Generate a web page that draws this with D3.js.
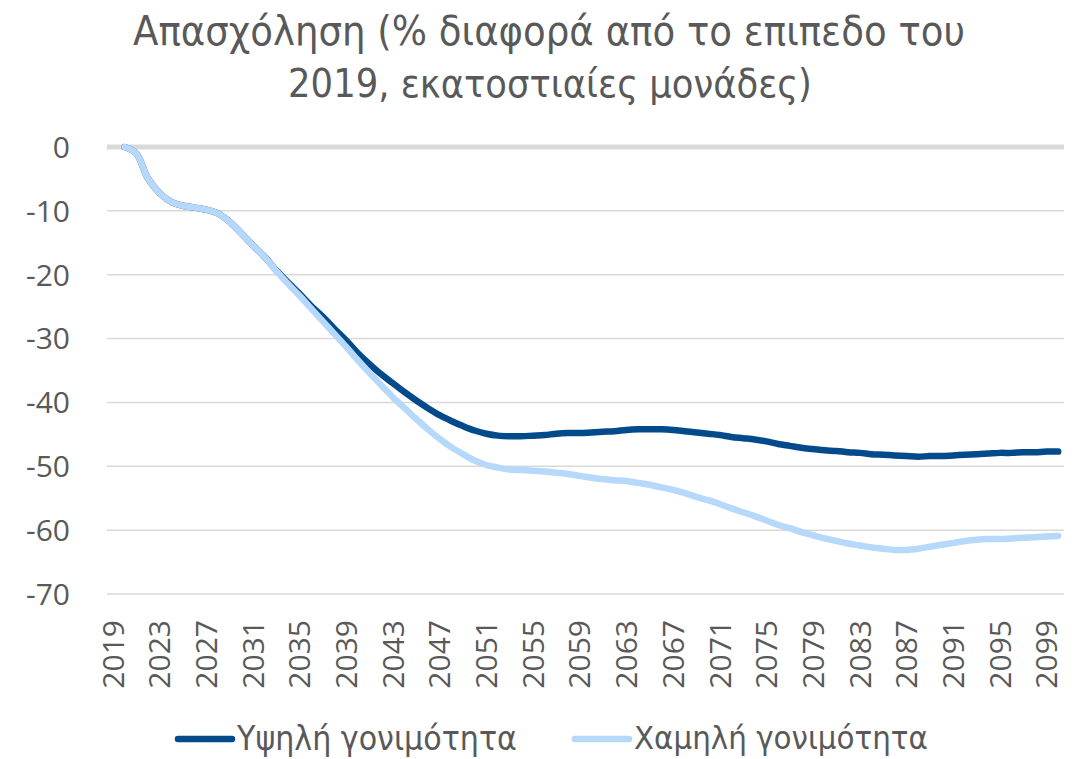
<!DOCTYPE html>
<html>
<head>
<meta charset="utf-8">
<script src="https://cdn.jsdelivr.net/npm/d3@7"></script>
<style>
  body { margin: 0; background: #fff; }
  svg { display: block; }
  .title, .legend text { font-family: "Liberation Sans Narrow", "DejaVu Sans Condensed", sans-serif; fill: #595959; }
  .tick-label { font-family: "Open Sans", sans-serif; fill: #595959; }
</style>
</head>
<body>
<div class="viz"></div>
<script>
// years on the category axis (2019 has no value)
var years = d3.range( 2019, 2101 );
var yTicks = [ 0, -10, -20, -30, -40, -50, -60, -70 ];
var titleLines = [ "Απασχόληση (% διαφορά από το επιπεδο του", "2019, εκατοστιαίες μονάδες)" ];
var seriesNames = [ "Υψηλή γονιμότητα", "Χαμηλή γονιμότητα" ];

// values 2020 .. 2100
var highFertility = [
    0, -1.0, -4.9, -7.2, -8.6, -9.2, -9.5, -9.8, -10.4, -11.7,
    -13.5, -15.4, -17.2, -19.3, -21.2, -23.0, -24.9, -26.6, -28.5, -30.3,
    -32.3, -34.0, -35.6, -37.0, -38.4, -39.7, -40.9, -42.0, -42.9, -43.7,
    -44.4, -44.9, -45.2, -45.3, -45.3, -45.2, -45.1, -44.9, -44.8, -44.8,
    -44.7, -44.6, -44.5, -44.3, -44.2, -44.2, -44.2, -44.3, -44.5, -44.7,
    -44.9, -45.1, -45.4, -45.6, -45.8, -46.1, -46.5, -46.8, -47.1, -47.3,
    -47.5, -47.6, -47.8, -47.9, -48.1, -48.2, -48.3, -48.4, -48.5, -48.4,
    -48.4, -48.3, -48.2, -48.1, -48.0, -47.9, -47.9, -47.8, -47.8, -47.7,
    -47.7
];
var lowFertility = [
    0, -1.0, -4.9, -7.2, -8.6, -9.2, -9.5, -9.8, -10.4, -11.7,
    -13.5, -15.4, -17.2, -19.4, -21.4, -23.3, -25.3, -27.3, -29.3, -31.3,
    -33.4, -35.4, -37.3, -39.2, -40.9, -42.6, -44.2, -45.7, -47.0, -48.1,
    -49.1, -49.8, -50.2, -50.5, -50.6, -50.7, -50.8, -51.0, -51.2, -51.5,
    -51.8, -52.0, -52.2, -52.3, -52.6, -52.9, -53.3, -53.7, -54.2, -54.8,
    -55.3, -55.9, -56.6, -57.2, -57.8, -58.5, -59.2, -59.7, -60.3, -60.8,
    -61.3, -61.7, -62.1, -62.4, -62.7, -62.9, -63.1, -63.1, -62.9, -62.6,
    -62.3, -62.0, -61.7, -61.5, -61.4, -61.4, -61.3, -61.2, -61.1, -61.0,
    -60.9
];
var colors = [ "#034a8b", "#b6d8fb" ];

var width = 1078, height = 759,
    plot = { left: 107, right: 1064, top: 147, bottom: 594 };

var svg = d3.select( ".viz" ).append( "svg" )
    .attr( "width", width )
    .attr( "height", height );

var x = d3.scaleBand().domain( years ).range( [ plot.left, plot.right ] );
var y = d3.scaleLinear().domain( [ 0, -70 ] ).range( [ plot.top, plot.bottom ] );
var cx = function( yr ) { return x( yr ) + x.bandwidth() / 2; };

// gridlines
svg.selectAll( ".grid" )
    .data( yTicks )
    .enter()
    .append( "line" )
    .attr( "x1", plot.left )
    .attr( "x2", plot.right )
    .attr( "y1", function( d ) { return y( d ); } )
    .attr( "y2", function( d ) { return y( d ); } )
    .attr( "stroke", "#d9d9d9" )
    .attr( "stroke-width", function( d ) { return d === 0 ? 5 : 1.5; } );

// y labels
svg.selectAll( ".ylab" )
    .data( yTicks )
    .enter()
    .append( "text" )
    .attr( "class", "tick-label" )
    .attr( "x", 70 )
    .attr( "y", function( d ) { return y( d ); } )
    .attr( "dy", "0.36em" )
    .style( "text-anchor", "end" )
    .style( "font-size", "30px" )
    .text( function( d ) { return d; } );

// x labels every 4 years
svg.selectAll( ".xlab" )
    .data( years.filter( function( d ) { return ( d - 2019 ) % 4 === 0; } ) )
    .enter()
    .append( "text" )
    .attr( "class", "tick-label" )
    .attr( "transform", function( d ) { return "translate(" + cx( d ) + ",620) rotate(-90)"; } )
    .attr( "dy", "0.36em" )
    .style( "text-anchor", "end" )
    .style( "font-size", "30px" )
    .text( function( d ) { return d; } );

// lines
var line = d3.line()
    .x( function( d ) { return cx( d[ 0 ] ); } )
    .y( function( d ) { return y( d[ 1 ] ); } )
    .curve( d3.curveCatmullRom );

[ highFertility, lowFertility ].forEach( function( vals, i ) {
    var pts = vals.map( function( v, j ) { return [ 2020 + j, v ]; } );
    svg.append( "path" )
        .datum( pts )
        .attr( "d", line )
        .attr( "fill", "none" )
        .attr( "stroke", colors[ i ] )
        .attr( "stroke-width", 6.5 )
        .attr( "stroke-linecap", "round" )
        .attr( "stroke-linejoin", "round" );
} );

// fit a text element to a target width
var fit = function( sel, target, base ) {
    sel.style( "font-size", base + "px" );
    var w = sel.node().getComputedTextLength();
    sel.style( "font-size", ( base * target / w ) + "px" );
};

// title
var t1 = svg.append( "text" ).attr( "class", "title" )
    .attr( "x", 549 ).attr( "y", 45 ).style( "text-anchor", "middle" ).text( titleLines[ 0 ] );
fit( t1, 832, 38 );
var t2 = svg.append( "text" ).attr( "class", "title" )
    .attr( "x", 550 ).attr( "y", 97 ).style( "text-anchor", "middle" ).text( titleLines[ 1 ] );
fit( t2, 524, 38 );

// legend: line start, line end, text start, text width
var legendX = [ [ 178, 232, 237, 280 ], [ 575, 629, 634, 294 ] ];
var legendY = 739;
var legend = svg.selectAll( ".legend" )
    .data( seriesNames )
    .enter()
    .append( "g" )
    .attr( "class", "legend" );

legend.append( "line" )
    .attr( "x1", function( d, i ) { return legendX[ i ][ 0 ]; } )
    .attr( "x2", function( d, i ) { return legendX[ i ][ 1 ]; } )
    .attr( "y1", legendY )
    .attr( "y2", legendY )
    .attr( "stroke", function( d, i ) { return colors[ i ]; } )
    .attr( "stroke-width", 6.5 )
    .attr( "stroke-linecap", "round" );

legend.append( "text" )
    .attr( "x", function( d, i ) { return legendX[ i ][ 2 ]; } )
    .attr( "y", legendY )
    .attr( "dy", "0.32em" )
    .text( function( d ) { return d; } )
    .each( function( d, i ) { fit( d3.select( this ), legendX[ i ][ 3 ], 28 ); } );
</script>
</body>
</html>
